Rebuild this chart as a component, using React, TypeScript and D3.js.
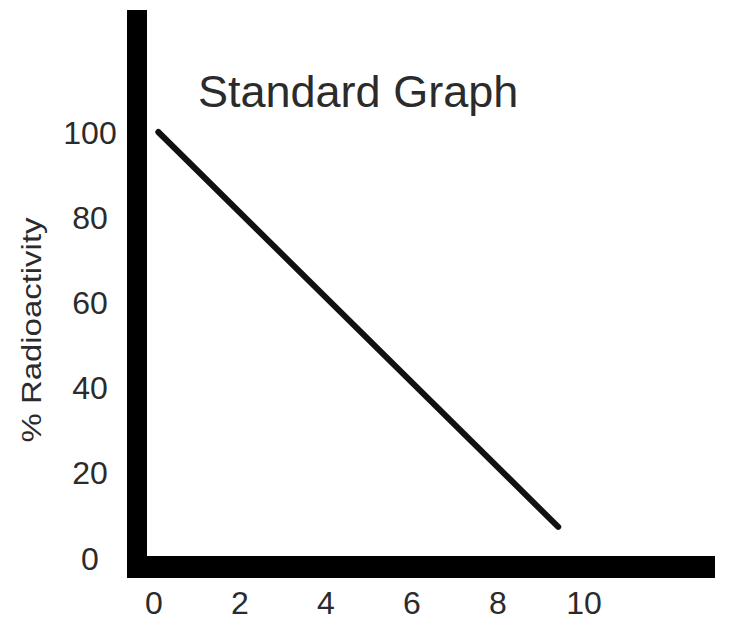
import React, { useEffect, useRef } from "react";
import * as d3 from "d3";

// values
const xTicks = [0, 2, 4, 6, 8, 10];
const yTicks = [0, 20, 40, 60, 80, 100];
const lineX = [0.1, 9.4];
const lineY = [100, 7.3];
const title = "Standard Graph";
const yLabel = "% Radioactivity";

export default function App() {
  const ref = useRef<SVGSVGElement>(null);

  useEffect(() => {
    const width = 729;
    const height = 623;
    const svg = d3.select(ref.current);
    svg.selectAll("*").remove();

    const x = d3.scaleLinear().domain([0, 10]).range([154, 584]);
    const y = d3.scaleLinear().domain([0, 100]).range([558, 132]);

    svg
      .append("rect")
      .attr("width", width)
      .attr("height", height)
      .attr("fill", "white");

    const font = "'Liberation Sans', Arial, Helvetica, sans-serif";
    const textColor = "#2b2b2b";

    // heavy axis bars
    svg
      .append("rect")
      .attr("x", 127)
      .attr("y", 10)
      .attr("width", 20)
      .attr("height", 567)
      .attr("fill", "black");
    svg
      .append("rect")
      .attr("x", 127)
      .attr("y", 556)
      .attr("width", 588)
      .attr("height", 22)
      .attr("fill", "black");

    // y tick labels
    svg
      .append("g")
      .selectAll("text")
      .data(yTicks)
      .join("text")
      .attr("x", 90)
      .attr("y", (d) => y(d))
      .attr("dy", "0.36em")
      .attr("text-anchor", "middle")
      .attr("font-family", font)
      .attr("font-size", 32)
      .attr("fill", textColor)
      .text((d) => d);

    // x tick labels
    svg
      .append("g")
      .selectAll("text")
      .data(xTicks)
      .join("text")
      .attr("x", (d) => x(d))
      .attr("y", 614)
      .attr("text-anchor", "middle")
      .attr("font-family", font)
      .attr("font-size", 32)
      .attr("fill", textColor)
      .text((d) => d);

    // y axis title
    svg
      .append("text")
      .attr("transform", "translate(41,330) rotate(-90)")
      .attr("text-anchor", "middle")
      .attr("font-family", font)
      .attr("font-size", 27)
      .attr("textLength", 225)
      .attr("lengthAdjust", "spacingAndGlyphs")
      .attr("fill", textColor)
      .text(yLabel);

    // title
    svg
      .append("text")
      .attr("x", 198)
      .attr("y", 107)
      .attr("font-family", font)
      .attr("font-size", 45)
      .attr("fill", textColor)
      .text(title);

    const pts = lineX.map((v, i) => [v, lineY[i]] as [number, number]);
    const line = d3
      .line<[number, number]>()
      .x((d) => x(d[0]))
      .y((d) => y(d[1]));

    svg
      .append("path")
      .datum(pts)
      .attr("d", line)
      .attr("fill", "none")
      .attr("stroke", "#111")
      .attr("stroke-width", 6)
      .attr("stroke-linecap", "round");
  }, []);

  return (
    <svg
      ref={ref}
      width={729}
      height={623}
      style={{ position: "absolute", left: 0, top: 0, display: "block" }}
    />
  );
}
